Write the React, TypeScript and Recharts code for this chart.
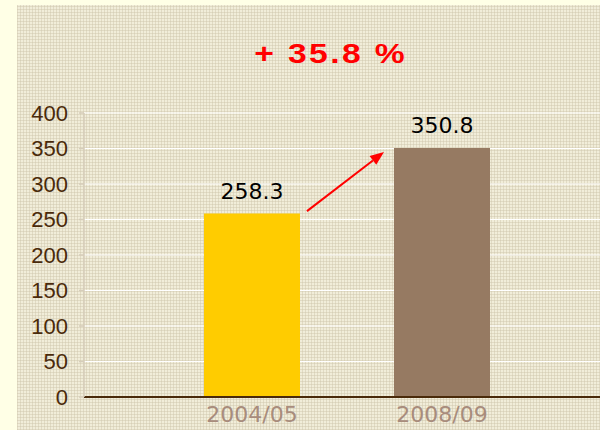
import React from 'react';
import { BarChart, Bar, XAxis, YAxis, CartesianGrid, Cell, LabelList, ReferenceLine } from 'recharts';

const categories = ['2004/05', '2008/09'];
const values = [258.3, 350.8];
const barColors = ['#FFCC00', '#967A62'];
const yTicks = [0, 50, 100, 150, 200, 250, 300, 350, 400];
const titleText = '+ 35.8 %';

const data = categories.map((c, i) => ({ name: c, value: values[i] }));

const Arrow = (props: any) => {
  const { x1, y1, x2, y2 } = props;
  if ([x1, y1, x2, y2].some((v) => typeof v !== 'number' || isNaN(v))) return null;
  const sx = x1 + 55;
  const sy = y1 - 2.5;
  const ex = x2 - 58;
  const ey = y2 + 4;
  const ang = Math.atan2(ey - sy, ex - sx);
  const hl = 14;
  const hw = 5.5;
  const bx = ex - hl * Math.cos(ang);
  const by = ey - hl * Math.sin(ang);
  const px = -Math.sin(ang) * hw;
  const py = Math.cos(ang) * hw;
  return (
    <g>
      <line x1={sx} y1={sy} x2={bx} y2={by} stroke="#FF0000" strokeWidth={2} />
      <polygon points={`${ex},${ey} ${bx + px},${by + py} ${bx - px},${by - py}`} fill="#FF0000" />
    </g>
  );
};

export default function App() {
  return (
    <div
      style={{
        position: 'absolute',
        left: 0,
        top: 0,
        width: 600,
        height: 430,
        background: '#FFFFE6',
        overflow: 'hidden',
      }}
    >
      <div
        style={{
          position: 'absolute',
          left: 17,
          top: 5,
          width: 583,
          height: 425,
          backgroundColor: '#F1EDD9',
          backgroundImage:
            'repeating-linear-gradient(0deg, rgba(205,196,170,0.45) 0px, rgba(205,196,170,0.45) 1px, transparent 1px, transparent 3px), repeating-linear-gradient(90deg, rgba(205,196,170,0.45) 0px, rgba(205,196,170,0.45) 1px, transparent 1px, transparent 3px)',
        }}
      />
      <div
        style={{
          position: 'absolute',
          left: 0,
          top: 38,
          width: 662,
          textAlign: 'center',
          lineHeight: '32px',
        }}
      >
        <span
          style={{
            display: 'inline-block',
            transform: 'scaleX(1.2)',
            color: '#FF0000',
            fontFamily: 'Liberation Sans, Arial, sans-serif',
            fontWeight: 'bold',
            fontSize: 28,
            letterSpacing: 2,
            whiteSpace: 'pre',
          }}
        >
          {titleText}
        </span>
      </div>
      <div style={{ position: 'absolute', left: 0, top: 0 }}>
        <BarChart
          width={600}
          height={430}
          data={data}
          margin={{ top: 113, right: 0, left: 0, bottom: 0 }}
        >
          <CartesianGrid horizontal vertical={false} stroke="#FFFFFF" strokeWidth={1.2} />
          <XAxis
            dataKey="name"
            height={33}
            padding={{ left: 73, right: 63 }}
            axisLine={{ stroke: '#4A2A0A', strokeWidth: 1.8 }}
            tickLine={false}
            tick={{ fill: '#A88C7C', fontSize: 22, fontFamily: 'DejaVu Sans, Verdana, sans-serif' }}
            tickMargin={3}
            interval={0}
          />
          <YAxis
            width={84}
            domain={[0, 400]}
            ticks={yTicks}
            interval={0}
            axisLine={{ stroke: '#D6CDBA', strokeWidth: 1.5 }}
            tickLine={{ stroke: '#D6CDBA', strokeWidth: 1.5 }}
            tickSize={5}
            tickMargin={11}
            tick={{ fill: '#4A2A0A', fontSize: 22, fontFamily: 'Liberation Sans, Arial, sans-serif' }}
          />
          <Bar dataKey="value" barSize={96} isAnimationActive={false}>
            {data.map((d, i) => (
              <Cell key={d.name} fill={barColors[i]} />
            ))}
            <LabelList
              dataKey="value"
              position="top"
              offset={15}
              fill="#000000"
              fontSize={22}
              fontFamily="DejaVu Sans, Verdana, sans-serif"
            />
          </Bar>
          <ReferenceLine
            segment={[
              { x: categories[0], y: values[0] },
              { x: categories[1], y: values[1] },
            ]}
            ifOverflow="visible"
            shape={Arrow}
          />
        </BarChart>
      </div>
    </div>
  );
}
